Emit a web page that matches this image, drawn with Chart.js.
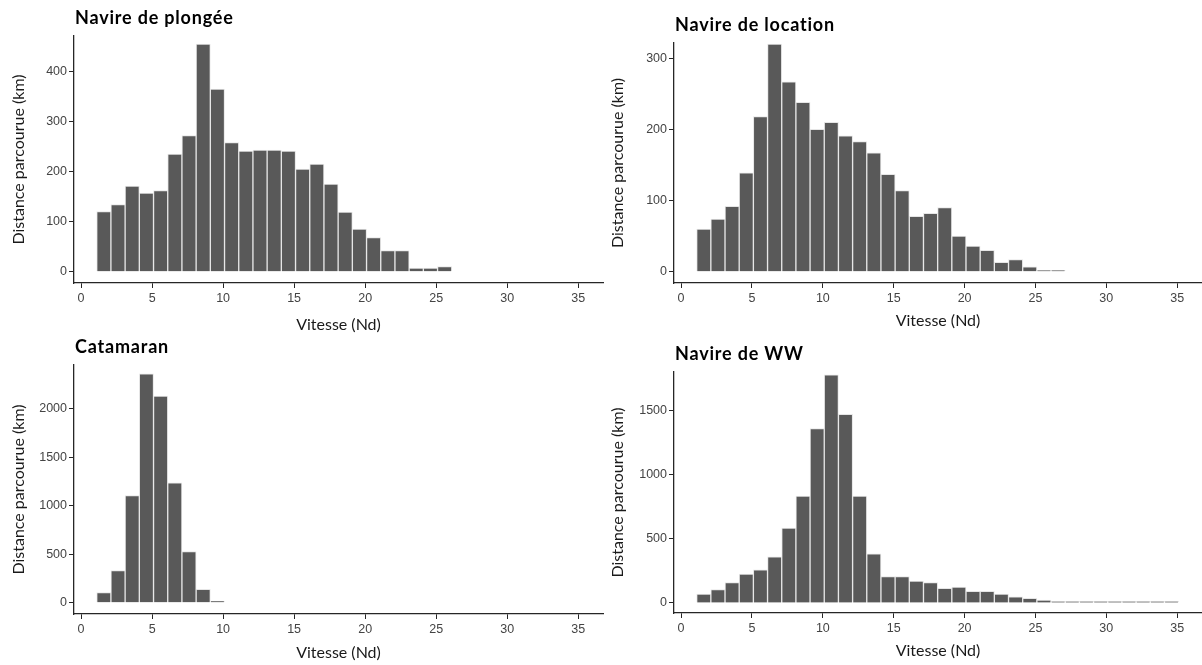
<!DOCTYPE html>
<html lang="fr">
<head>
<meta charset="utf-8">
<title>Distance parcourue selon la vitesse</title>
<script src="https://cdn.jsdelivr.net/npm/chart.js@4.4.1/dist/chart.umd.min.js"></script>
<style>
  html, body { margin: 0; padding: 0; background: #fff; }
  #wrap { position: relative; width: 1202px; height: 665px; overflow: hidden; background: #fff; }
  canvas { position: absolute; }
</style>
</head>
<body>
<div id="wrap">
  <canvas id="c1" width="610" height="335" style="left:0;top:0"></canvas>
  <canvas id="c2" width="602" height="335" style="left:600px;top:0"></canvas>
  <canvas id="c3" width="610" height="333" style="left:0;top:332px"></canvas>
  <canvas id="c4" width="602" height="333" style="left:600px;top:332px"></canvas>
</div>
<script>
// Distance travelled (km) per 1-knot speed bin, by vessel type
const plongeeKm   = [120, 134, 171, 157, 162, 235, 272, 455, 365, 258, 241, 243, 243, 241, 205, 215, 175, 119, 85, 68, 42, 42, 7, 7, 10];
const locationKm  = [60, 74, 92, 139, 218, 320, 267, 238, 200, 210, 191, 183, 167, 137, 114, 78, 82, 90, 50, 36, 30, 13, 17, 7, 2, 2];
const catamaranKm = [103, 331, 1107, 2362, 2134, 1238, 528, 138, 17];
const wwKm        = [70, 104, 158, 225, 259, 360, 583, 832, 1358, 1775, 1469, 832, 383, 205, 205, 171, 158, 114, 124, 91, 91, 70, 47, 36, 23, 12, 12, 12, 12, 12, 12, 12, 12, 12];

// Speed bins (knots): first bin lower edge and width
const firstBinStart = 1.1;
const binWidth = 1;

// Tick labels
const speedTicks     = [0, 5, 10, 15, 20, 25, 30, 35];
const plongeeTicks   = [0, 100, 200, 300, 400];
const locationTicks  = [0, 100, 200, 300];
const catamaranTicks = [0, 500, 1000, 1500, 2000];
const wwTicks        = [0, 500, 1000, 1500];

const titles = ['Navire de plongée', 'Navire de location', 'Catamaran', 'Navire de WW'];
const xTitle = 'Vitesse (Nd)';
const yTitle = 'Distance parcourue (km)';

const BAR_FILL = '#595959';
const AXIS = '#262626';
const TICK_TEXT = '#444444';

// Panel title drawn flush with the plotting area's left edge
const panelTitle = {
  id: 'panelTitle',
  afterDraw(chart, args, opts) {
    const { ctx, chartArea } = chart;
    ctx.save();
    ctx.font = 'bold 18px Lato';
    ctx.letterSpacing = '0.8px';
    ctx.fillStyle = '#000';
    ctx.textAlign = 'left';
    ctx.textBaseline = 'alphabetic';
    ctx.fillText(opts.text, chartArea.left + 1, chartArea.top - 12);
    ctx.restore();
  }
};

const plainNumber = v => String(v);

function histogram(canvasId, title, values, yTicks, layout) {
  const points = values.map((v, i) => ({ x: firstBinStart + binWidth * (i + 0.5), y: v }));
  return new Chart(document.getElementById(canvasId), {
    type: 'bar',
    data: {
      datasets: [{
        data: points,
        backgroundColor: BAR_FILL,
        borderColor: '#e6e6e6',
        borderWidth: 1,
        borderSkipped: 'start',
        barPercentage: 1,
        categoryPercentage: 1
      }]
    },
    options: {
      responsive: false,
      animation: false,
      devicePixelRatio: 1,
      events: [],
      layout: { padding: { top: layout.top, right: layout.right, left: 0, bottom: 0 } },
      plugins: {
        legend: { display: false },
        tooltip: { enabled: false },
        panelTitle: { text: title }
      },
      scales: {
        x: {
          type: 'linear',
          min: -0.5,
          max: 36.75,
          offset: false,
          afterBuildTicks: s => { s.ticks = speedTicks.map(v => ({ value: v })); },
          afterFit: s => { s.height = layout.xHeight; },
          grid: { display: true, offset: false, drawOnChartArea: false, drawTicks: true, tickLength: 5, color: AXIS, lineWidth: 1 },
          border: { display: true, color: AXIS, width: 1.3 },
          ticks: {
            padding: 3,
            maxRotation: 0,
            color: TICK_TEXT,
            callback: plainNumber,
            font: { family: 'Liberation Sans, Arial, sans-serif', size: 12.5 }
          },
          title: {
            display: true,
            text: xTitle,
            color: '#1a1a1a',
            font: { family: 'Lato, sans-serif', size: 16, lineHeight: 1 },
            padding: { top: 0, bottom: layout.xTitlePad }
          }
        },
        y: {
          type: 'linear',
          min: layout.yMin,
          max: layout.yMax,
          afterBuildTicks: s => { s.ticks = yTicks.map(v => ({ value: v })); },
          afterFit: s => { s.width = 74; },
          grid: { display: true, offset: false, drawOnChartArea: false, drawTicks: true, tickLength: 5, color: AXIS, lineWidth: 1 },
          border: { display: true, color: AXIS, width: 1.3 },
          ticks: {
            padding: 2,
            color: TICK_TEXT,
            callback: plainNumber,
            font: { family: 'Liberation Sans, Arial, sans-serif', size: 12.5 }
          },
          title: {
            display: true,
            text: yTitle,
            color: '#1a1a1a',
            font: { family: 'Lato, sans-serif', size: 16, lineHeight: 1 },
            padding: { top: layout.yTitlePad, bottom: 0 }
          }
        }
      }
    },
    plugins: [panelTitle]
  });
}

histogram('c1', titles[0], plongeeKm, plongeeTicks,
  { top: 36, right: 7, xHeight: 52, xTitlePad: 2, yTitlePad: 11, yMin: -22.6, yMax: 471 });
histogram('c2', titles[1], locationKm, locationTicks,
  { top: 43, right: 0, xHeight: 52, xTitlePad: 6, yTitlePad: 10, yMin: -15.9, yMax: 321.5 });
histogram('c3', titles[2], catamaranKm, catamaranTicks,
  { top: 33, right: 7, xHeight: 51, xTitlePad: 4, yTitlePad: 11, yMin: -117, yMax: 2454 });
histogram('c4', titles[3], wwKm, wwTicks,
  { top: 40, right: 0, xHeight: 52, xTitlePad: 6, yTitlePad: 10, yMin: -78, yMax: 1798 });
</script>
</body>
</html>
